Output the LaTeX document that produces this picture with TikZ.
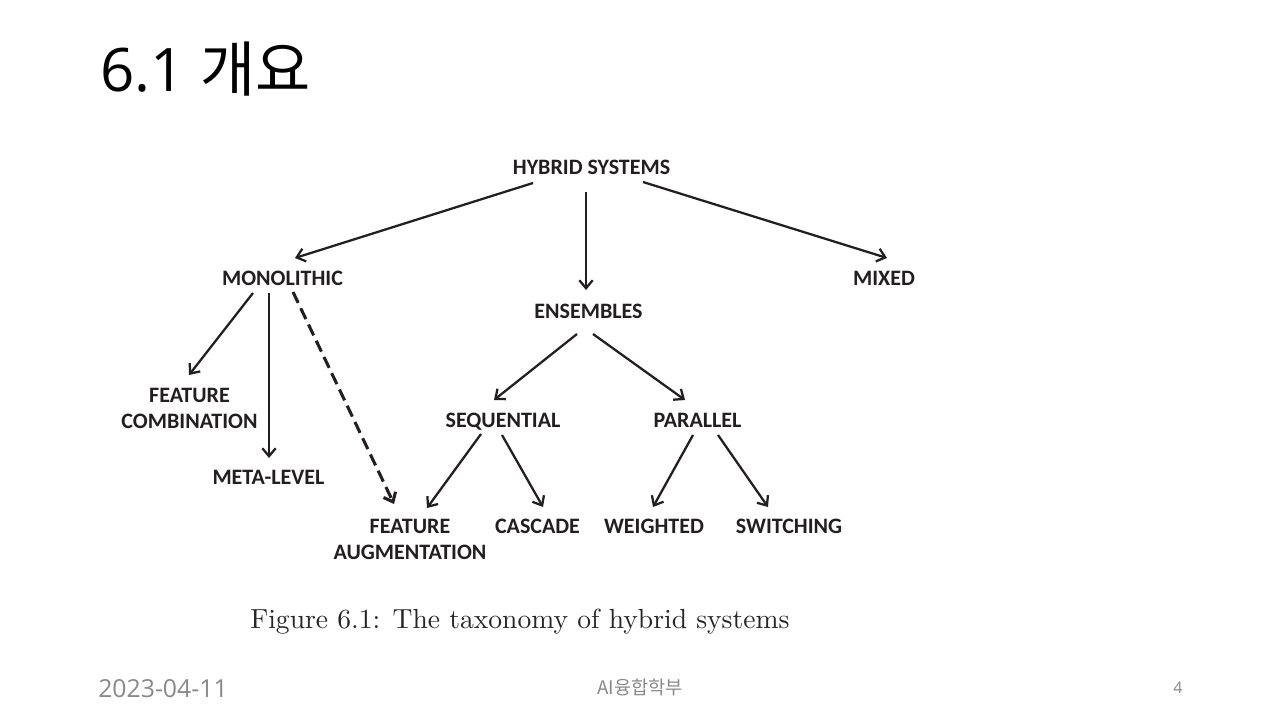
\documentclass[tikz,border=0pt]{standalone}
\usepackage{fontspec}
\setmainfont{Open Sans}
\newfontfamily\krfont{Noto Sans CJK KR}
\newfontfamily\labelfont{Carlito}
\newfontfamily\capfont{lmroman10-regular}[Extension=.otf]
\usetikzlibrary{arrows.meta,calc}
\definecolor{Ink}{RGB}{35,31,32}
\definecolor{FootGray}{RGB}{137,137,137}

\begin{document}
\begin{tikzpicture}[x=0.75pt, y=-0.75pt,
    lbl/.style={font=\labelfont\bfseries\fontsize{16.5}{19.5}\selectfont, text=Ink, inner sep=0pt, anchor=base, align=center},
    arr/.style={draw=Ink, line width=1.7pt, -{Straight Barb[length=6pt,width=10pt]}},
    dasharr/.style={arr, line width=2.3pt, dash pattern=on 9pt off 4.5pt}]
    \useasboundingbox[fill=white] (0,0) rectangle (1280,720);

    % Slide title
    \node[anchor=base west, inner sep=0pt, font=\fontsize{45}{50}\selectfont] (title) at (100,92) {6.1 {\krfont 개요}};

    % Taxonomy nodes (two-line nodes sit on their second line)
    \node[lbl] (hs)  at (591.5,175) {HYBRID SYSTEMS};
    \node[lbl] (mon) at (282.5,285) {MONOLITHIC};
    \node[lbl] (ens) at (588.5,318) {ENSEMBLES};
    \node[lbl] (mix) at (884,285)   {MIXED};
    \node[lbl] (fc)  at (189.5,428) {FEATURE\\COMBINATION};
    \node[lbl] (ml)  at (268.5,484) {META-LEVEL};
    \node[lbl] (seq) at (503,427)   {SEQUENTIAL};
    \node[lbl] (par) at (697.5,427) {PARALLEL};
    \node[lbl] (fa)  at (410,559)   {FEATURE\\AUGMENTATION};
    \node[lbl] (cas) at (537.5,533) {CASCADE};
    \node[lbl] (wei) at (654,533)   {WEIGHTED};
    \node[lbl] (swi) at (789,533)   {SWITCHING};

    % Connections
    \draw[arr] ($(hs.base)+(-58.5,8)$) -- ($(mon.base)+(12.5,-27)$);
    \draw[arr] ($(hs.base)+(-5.5,17)$) -- ($(ens.base)+(-2.5,-28)$);
    \draw[arr] ($(hs.base)+(51.5,7)$) -- ($(mix.base)+(3,-27)$);
    \draw[arr] ($(mon.base)+(-29.5,8)$) -- ($(fc.base)+(-0.5,-53)$);
    \draw[arr] ($(mon.base)+(-13.5,8)$) -- ($(ml.base)+(0.5,-26)$);
    \draw[dasharr] ($(mon.base)+(10.5,7)$) -- ($(fa.base)+(-16,-55)$);
    \draw[arr] ($(ens.base)+(-11.5,16)$) -- ($(seq.base)+(-9,-27)$);
    \draw[arr] ($(ens.base)+(4.5,16)$) -- ($(par.base)+(-12.5,-27)$);
    \draw[arr] ($(seq.base)+(-22,7)$) -- ($(fa.base)+(17,-51)$);
    \draw[arr] ($(seq.base)+(-1,8)$) -- ($(cas.base)+(5.5,-26)$);
    \draw[arr] ($(par.base)+(-4.5,8)$) -- ($(wei.base)+(-1,-26)$);
    \draw[arr] ($(par.base)+(20.5,8)$) -- ($(swi.base)+(-21,-26)$);

    % Caption
    \node[anchor=base west, inner sep=0pt, text=black!85, font=\capfont\fontsize{20.7}{24}\selectfont] (cap) at (250,628) {Figure 6.1: The taxonomy of hybrid systems};

    % Footer
    \node[anchor=base west, inner sep=0pt, text=FootGray, font=\fontsize{18.6}{21}\selectfont] (date) at (98,697) {2023-04-11};
    \node[anchor=base, inner sep=0pt, text=FootGray, font=\krfont\fontsize{14}{17}\selectfont] (dept) at (640,694) {AI융합학부};
    \node[anchor=base, inner sep=0pt, text=FootGray, font=\fontsize{12}{14}\selectfont] (page) at (1178,693) {4};
\end{tikzpicture}
\end{document}
